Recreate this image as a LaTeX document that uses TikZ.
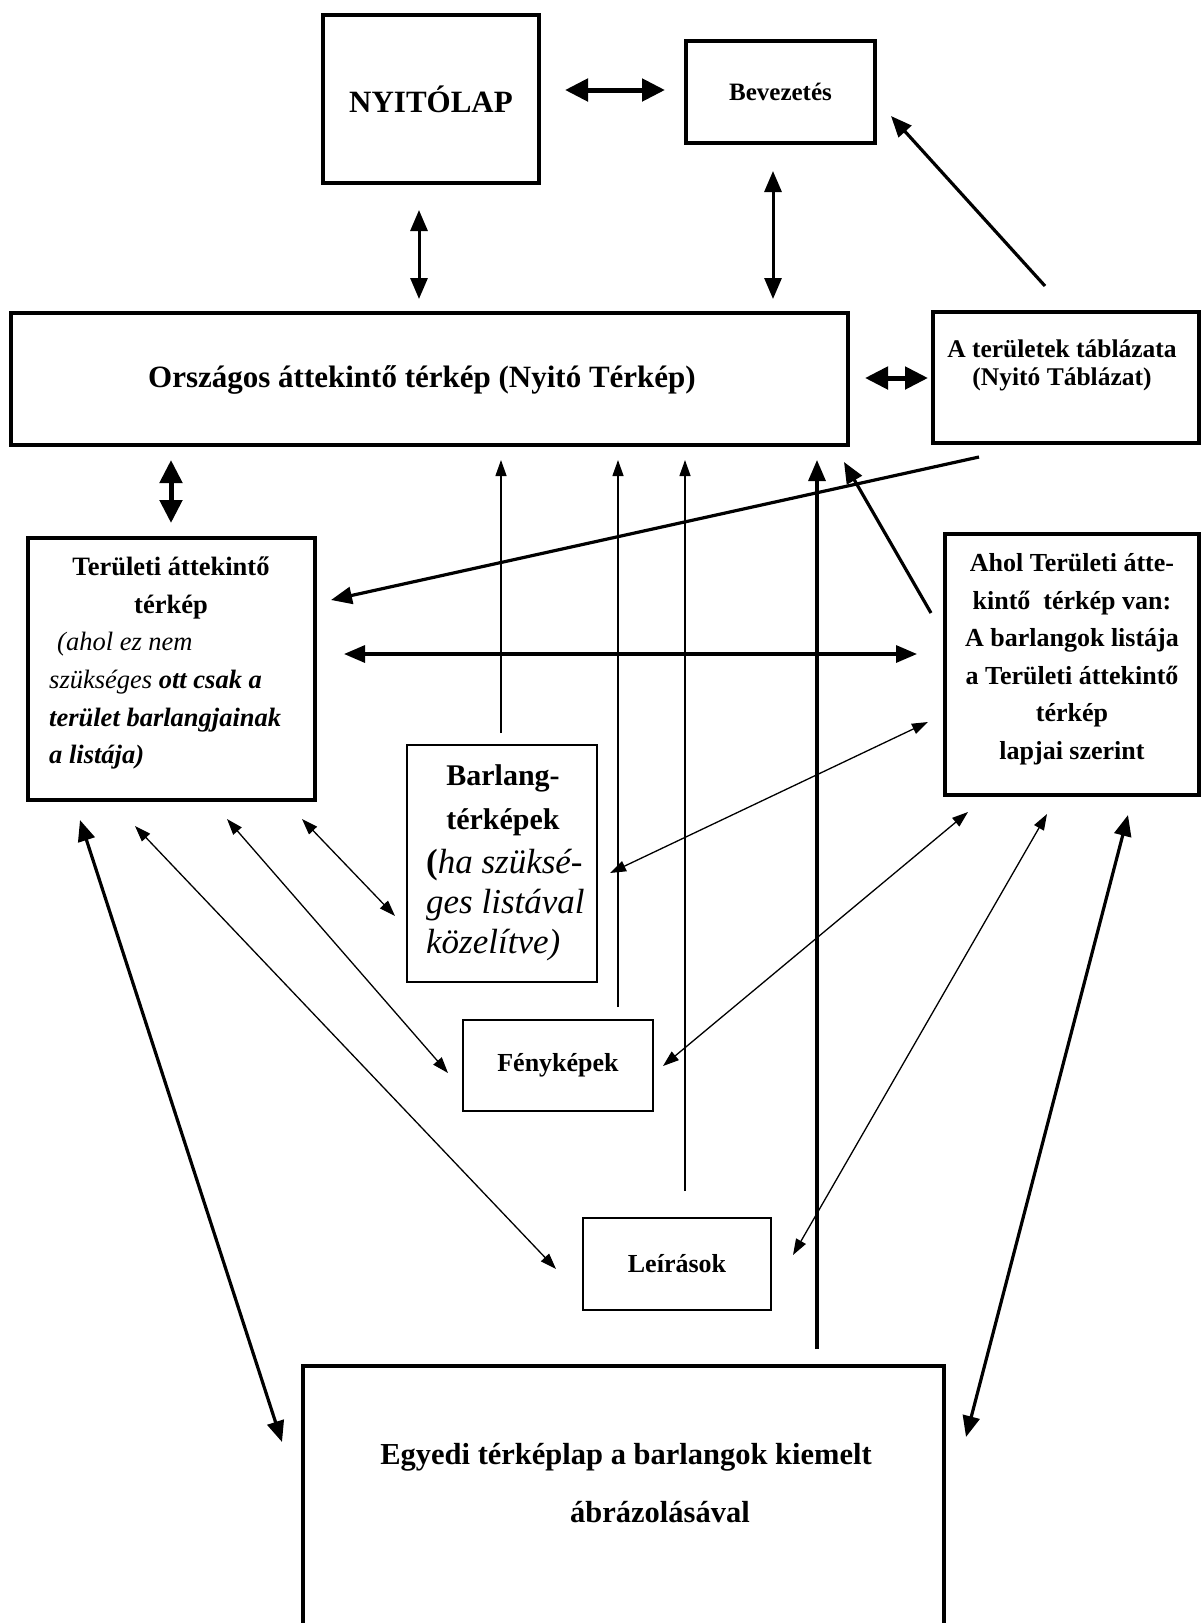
\documentclass[tikz,border=0pt]{standalone}
\usepackage{fontspec}
\setmainfont{Liberation Serif}
\usetikzlibrary{arrows.meta}
\newcommand\myfs[2]{\fontsize{#1}{#2}\selectfont}
\tikzset{
  tipS/.tip={Triangle[length=16pt,width=11pt]},
  tipL/.tip={Triangle[length=21pt,width=17pt]},
  tipXL/.tip={Triangle[length=23pt,width=22pt]},
  box/.style={draw, inner sep=0pt, line width=3.5pt, font=\bfseries},
  lbl/.style={inner sep=0pt, align=center, font=\bfseries},
  fdbl/.style={line width=1.3pt, tipS-tipS},
  fone/.style={line width=1.3pt, -tipS},
  kdbl/.style={line width=3.2pt, tipL-tipL},
  kone/.style={line width=3.2pt, -tipL},
  bdbl/.style={line width=5pt, tipXL-tipXL},
}
\begin{document}
\begin{tikzpicture}[x=1pt,y=-1pt]
\useasboundingbox (0,0) rectangle (1202,1623);
\fill[white] (0,0) rectangle (1202,1623);
\clip (0,0) rectangle (1202,1623);

% boxes
\node[box, minimum width=216pt, minimum height=168pt, font=\bfseries\myfs{31}{36}] (nyito) at (431,99) {NYITÓLAP};
\node[box, minimum width=189pt, minimum height=102pt, font=\bfseries\myfs{25}{30}] (bev) at (780.5,92) {Bevezetés};
\node[box, line width=4pt, minimum width=837pt, minimum height=132pt] (orsz) at (429.5,379) {};
\node[box, minimum width=266pt, minimum height=131pt] (tabl) at (1066,377.5) {};
\node[box, line width=4pt, minimum width=287pt, minimum height=262pt] (terul) at (171.5,669) {};
\node[box, line width=4pt, minimum width=254pt, minimum height=261pt] (ahol) at (1072,664.5) {};
\node[box, line width=1.5pt, minimum width=190pt, minimum height=237pt] (barl) at (502,863.5) {};
\node[box, line width=2.5pt, minimum width=190pt, minimum height=91pt, font=\bfseries\myfs{26}{30}] (feny) at (558,1065.5) {Fényképek};
\node[box, line width=2pt, minimum width=188pt, minimum height=92pt, font=\bfseries\myfs{26}{30}] (leir) at (677,1264) {Leírások};
\node[box, line width=4pt, minimum width=641pt, minimum height=334pt] (egy) at (623.5,1533) {};

% texts
\node[lbl, font=\bfseries\myfs{31}{36}] (orszt) at (422,380) {Országos áttekintő térkép (Nyitó Térkép)};
\node[lbl, font=\bfseries\myfs{25.5}{28}] (tablt) at (1062,365) {A területek táblázata\\(Nyitó Táblázat)};
\node[lbl, font=\bfseries\myfs{26.5}{37.8}] (terult) at (171,588) {Területi áttekintő\\térkép};
\node[lbl, anchor=west, align=left, font=\myfs{26.5}{37.6}] (terulm) at (49,701)
  {\hspace*{8pt}{\itshape (ahol ez nem}\\
   {\itshape szükséges} {\bfseries\itshape ott csak a}\\
   {\bfseries\itshape terület barlangjainak}\\
   {\bfseries\itshape a listája)}};
\node[lbl, font=\bfseries\myfs{26}{37.5}] (ahott) at (1072,659)
  {Ahol Területi átte-\\kintő\ \ térkép van:\\A barlangok listája\\a Területi áttekintő\\térkép\\lapjai szerint};
\node[lbl, font=\bfseries\myfs{30}{44}] (barlt) at (503,800) {Barlang-\\térképek};
\node[lbl, anchor=west, align=left, font=\itshape\myfs{35}{40}] (barlm) at (426,905)
  {{\upshape\bfseries (}ha szüksé-\\ges listával\\közelítve)};
\node[lbl, font=\bfseries\myfs{30.5}{36}] (egyt1) at (626,1457) {Egyedi térképlap a barlangok kiemelt};
\node[lbl, font=\bfseries\myfs{30.5}{36}] (egyt2) at (660,1512) {ábrázolásával};

% connector end points
\coordinate (nyE) at (565,90);   \coordinate (bvW) at (665,90);
\coordinate (nyS) at (419,210);  \coordinate (orN1) at (419,299);
\coordinate (bvS) at (773,171);  \coordinate (orN2) at (773,299);
\coordinate (tbN) at (1045,286); \coordinate (bvSE) at (891,116);
\coordinate (orE) at (865,378);  \coordinate (tbW) at (928,378);
\coordinate (orS) at (171,460);  \coordinate (teN) at (171,523);
\coordinate (tbSW) at (979,457); \coordinate (teE1) at (331,600);
\coordinate (teE2) at (344,654); \coordinate (ahW) at (917,654);
\coordinate (ahNW) at (931,613); \coordinate (orSE) at (844,462);
\coordinate (baN) at (501,733);  \coordinate (orS1) at (501,460);
\coordinate (feN) at (618,1007); \coordinate (orS2) at (618,460);
\coordinate (leN) at (685,1191); \coordinate (orS3) at (685,460);
\coordinate (egN) at (817,1349); \coordinate (orS4) at (817,460);
\coordinate (baE) at (610,873);  \coordinate (ahW2) at (928,722);
\coordinate (teS1) at (80,820);  \coordinate (egW) at (282,1442);
\coordinate (teS2) at (135,826); \coordinate (leW) at (556,1269);
\coordinate (teS3) at (227,819); \coordinate (feW) at (448,1073);
\coordinate (teS4) at (302,819); \coordinate (baW) at (395,916);
\coordinate (ahS1) at (968,812); \coordinate (feE) at (663,1066);
\coordinate (ahS2) at (1047,814);\coordinate (leE) at (793,1255);
\coordinate (ahS3) at (1128,815);\coordinate (egE) at (966,1437);

% connectors
\draw[bdbl] (nyE) -- (bvW);
\draw[kdbl, line width=3pt] (nyS) -- (orN1);
\draw[kdbl, line width=3pt] (bvS) -- (orN2);
\draw[kone] (tbN) -- (bvSE);
\draw[bdbl] (orE) -- (tbW);
\draw[bdbl] (orS) -- (teN);
\draw[kone] (tbSW) -- (teE1);
\draw[kdbl] (teE2) -- (ahW);
\draw[kone] (ahNW) -- (orSE);
\draw[fone] (baN) -- (orS1);
\draw[fone] (feN) -- (orS2);
\draw[fone] (leN) -- (orS3);
\draw[kone] (egN) -- (orS4);
\draw[fdbl] (baE) -- (ahW2);
\draw[kdbl] (teS1) -- (egW);
\draw[fdbl] (teS2) -- (leW);
\draw[fdbl] (teS3) -- (feW);
\draw[fdbl] (teS4) -- (baW);
\draw[fdbl] (ahS1) -- (feE);
\draw[fdbl] (ahS2) -- (leE);
\draw[kdbl] (ahS3) -- (egE);
\end{tikzpicture}
\end{document}
